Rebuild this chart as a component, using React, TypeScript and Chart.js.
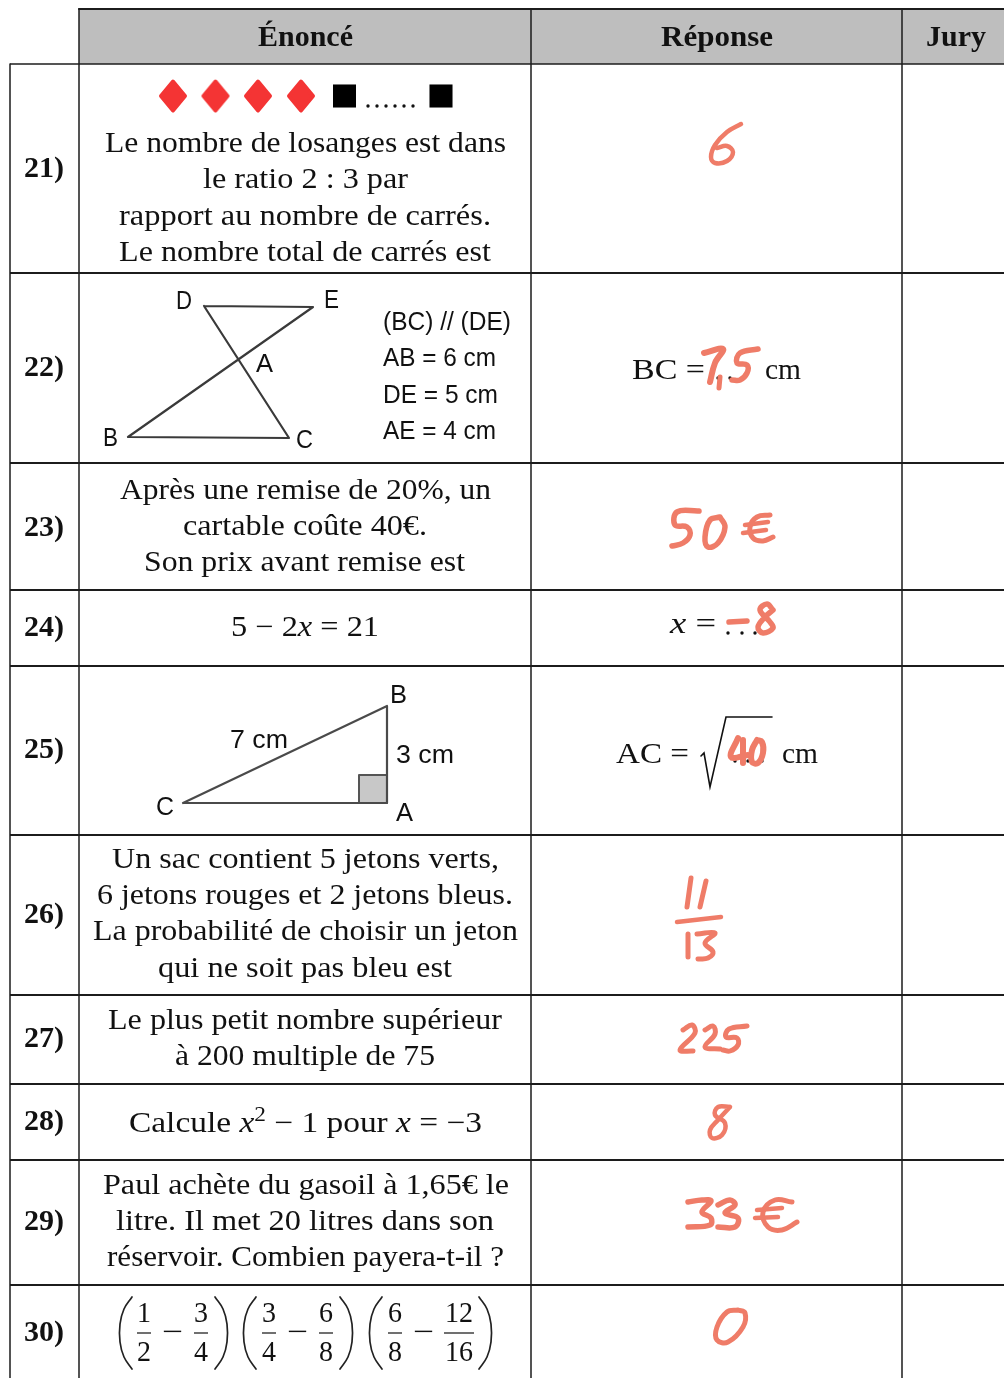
import React, { useEffect, useRef } from "react";
import { Chart, registerables } from "chart.js";

Chart.register(...registerables);

type P = [number, number];
type Line = [string, number, number, number]; // text (*italic*, ^superscript^), left, right, baseline

const SERIF = '"Liberation Serif"';
const SANS = '"Liberation Sans"';

const columnEdges = [79, 531, 902];
const rowEdges = [64, 273, 463, 590, 666, 835, 995, 1084, 1160, 1285];

const headerLabels: Line[] = [
  ["Énoncé", 258, 353, 46],
  ["Réponse", 661, 773, 46],
  ["Jury", 926, 986, 46],
];

const rowLabels: Line[] = [
  ["21)", 24, 64, 177],
  ["22)", 24, 64, 376],
  ["23)", 24, 64, 536],
  ["24)", 24, 64, 636],
  ["25)", 24, 64, 758],
  ["26)", 24, 64, 923],
  ["27)", 24, 64, 1047],
  ["28)", 24, 64, 1130],
  ["29)", 24, 64, 1230],
  ["30)", 24, 64, 1341],
];

const statementLines: Line[] = [
  ["Le nombre de losanges est dans", 105, 506, 152],
  ["le ratio 2 : 3 par", 203, 408, 188],
  ["rapport au nombre de carrés.", 119, 491, 225],
  ["Le nombre total de carrés est", 119, 491, 261],
  ["Après une remise de 20%, un", 120, 491, 499],
  ["cartable coûte 40€.", 183, 427, 535],
  ["Son prix avant remise est", 144, 465, 571],
  ["5 − 2*x* = 21", 231, 379, 636],
  ["Un sac contient 5 jetons verts,", 112, 499, 868],
  ["6 jetons rouges et 2 jetons bleus.", 97, 513, 904],
  ["La probabilité de choisir un jeton", 93, 518, 940],
  ["qui ne soit pas bleu est", 158, 452, 977],
  ["Le plus petit nombre supérieur", 108, 502, 1029],
  ["à 200 multiple de 75", 175, 435, 1065],
  ["Calcule *x*^2^ − 1 pour *x* = −3", 129, 482, 1132],
  ["Paul achète du gasoil à 1,65€ le", 103, 509, 1194],
  ["litre. Il met 20 litres dans son", 116, 494, 1230],
  ["réservoir. Combien payera-t-il ?", 107, 504, 1266],
];

const fractionDigits: Line[] = [
  ["1", 137, 151, 1322], ["2", 137, 151, 1361],
  ["3", 194, 208, 1322], ["4", 194, 208, 1361],
  ["3", 262, 276, 1322], ["4", 262, 276, 1361],
  ["6", 319, 333, 1322], ["8", 319, 333, 1361],
  ["6", 388, 402, 1322], ["8", 388, 402, 1361],
  ["12", 445, 473, 1322], ["16", 445, 473, 1361],
  ["−", 162, 183, 1341], ["−", 287, 308, 1341], ["−", 413, 434, 1341],
];

const answerLines: Line[] = [
  ["BC =", 632, 705, 379],
  ["cm", 765, 801, 379],
  ["*x* =", 670, 716, 633],
  ["AC =", 616, 689, 763],
  ["cm", 782, 818, 763],
];

const figureLabels: Line[] = [
  ["D", 176, 192, 309],
  ["E", 324, 339, 308],
  ["A", 256, 273, 372],
  ["B", 103, 118, 446],
  ["C", 296, 313, 448],
  ["(BC) // (DE)", 383, 511, 330],
  ["AB = 6 cm", 383, 496, 366],
  ["DE = 5 cm", 383, 498, 403],
  ["AE = 4 cm", 383, 496, 439],
  ["B", 390, 407, 703],
  ["3 cm", 396, 454, 763],
  ["7 cm", 230, 288, 748],
  ["C", 156, 174, 815],
  ["A", 396, 413, 821],
];

const diamonds: P[] = [[173, 96], [215.5, 96], [258, 96], [301, 96]];
const squares: P[] = [[344.5, 96], [441, 96]];
const answerDots: P[] = [
  [368, 106], [377, 106], [386, 106], [395, 106], [404, 106], [413, 106],
  [718, 378], [730, 378], [743, 378],
  [728, 633], [742, 633], [755, 633],
  [735, 761], [748, 761], [762, 761],
];

const figureOne: P[] = [[204, 306], [313, 307], [128, 437], [289, 438], [204, 306]];
const figureTwo: P[] = [[183, 803], [387, 706], [387, 803], [183, 803]];
const rightAngle: P[] = [[359, 775], [387, 775], [387, 803], [359, 803], [359, 775]];
const radical: P[] = [[701, 756], [704, 753], [710, 787], [726, 717], [772, 717]];

const fractionBars: P[][] = [
  [[137, 1333], [151, 1333]], [[194, 1333], [208, 1333]],
  [[262, 1333], [276, 1333]], [[319, 1333], [333, 1333]],
  [[388, 1333], [402, 1333]], [[444, 1333], [474, 1333]],
];

const parens: P[][] = [
  [[132, 1297], [124, 1309], [120, 1324], [120, 1342], [124, 1357], [132, 1369]],
  [[215, 1297], [223, 1309], [227, 1324], [227, 1342], [223, 1357], [215, 1369]],
  [[256, 1297], [248, 1309], [244, 1324], [244, 1342], [248, 1357], [256, 1369]],
  [[340, 1297], [348, 1309], [352, 1324], [352, 1342], [348, 1357], [340, 1369]],
  [[382, 1297], [374, 1309], [370, 1324], [370, 1342], [374, 1357], [382, 1369]],
  [[479, 1297], [487, 1309], [491, 1324], [491, 1342], [487, 1357], [479, 1369]],
];

const handwriting: [number, P[]][] = [
  [4.5, [[741, 124], [727, 132], [715, 145], [711, 157], [715, 163], [727, 161], [733, 152], [727, 146], [717, 148]]],
  [6, [[704, 353], [723, 349], [715, 363], [710, 382]]],
  [5, [[720, 377], [719, 388]]],
  [5.5, [[758, 349], [740, 353], [737, 363], [747, 365], [747, 373], [740, 380], [732, 380]]],
  [5.5, [[699, 511], [677, 512], [675, 525], [687, 527], [690, 535], [683, 543], [672, 546]]],
  [5.5, [[720, 517], [710, 520], [705, 537], [708, 547], [718, 543], [725, 527], [720, 517]]],
  [5, [[770, 515], [757, 517], [750, 527], [753, 538], [763, 541], [773, 537]]],
  [4.5, [[745, 525], [768, 522]]],
  [4.5, [[743, 533], [766, 530]]],
  [5.5, [[729, 622], [747, 621]]],
  [5.5, [[773, 610], [767, 604], [760, 610], [770, 622], [773, 628], [763, 633], [758, 627], [765, 617], [773, 610]]],
  [6, [[738, 738], [731, 757], [748, 755]]],
  [6, [[743, 740], [743, 763]]],
  [6, [[757, 740], [752, 750], [752, 762], [758, 763], [763, 753], [762, 742], [757, 740]]],
  [5, [[691, 878], [687, 907]]],
  [5, [[706, 881], [700, 907]]],
  [4.5, [[677, 922], [721, 917]]],
  [5, [[688, 934], [688, 957]]],
  [5, [[697, 934], [715, 933], [705, 943], [713, 952], [708, 958], [698, 959]]],
  [5, [[683, 1030], [692, 1025], [695, 1033], [680, 1050], [693, 1051]]],
  [5, [[705, 1030], [713, 1026], [715, 1034], [705, 1047], [720, 1049]]],
  [5, [[747, 1026], [729, 1029], [726, 1037], [737, 1038], [738, 1045], [730, 1051], [723, 1050]]],
  [4.5, [[730, 1107], [718, 1107], [715, 1115], [725, 1123], [722, 1135], [712, 1138], [710, 1130], [718, 1120], [730, 1107]]],
  [5.5, [[688, 1202], [702, 1200], [711, 1201], [702, 1212], [711, 1218], [710, 1225], [688, 1227]]],
  [5.5, [[718, 1205], [730, 1200], [735, 1205], [725, 1213], [738, 1218], [735, 1227], [718, 1227]]],
  [5, [[792, 1202], [775, 1200], [763, 1212], [768, 1227], [782, 1230], [797, 1222]]],
  [4.5, [[757, 1210], [782, 1208]]],
  [4.5, [[755, 1218], [778, 1217]]],
  [5, [[738, 1310], [727, 1312], [717, 1327], [717, 1340], [728, 1342], [743, 1327], [745, 1313], [738, 1310]]],
];

const pts = (a: P[]) => a.map(([x, y]) => ({ x, y }));

function diamondImage(): HTMLCanvasElement {
  const c = document.createElement("canvas");
  c.width = 30;
  c.height = 36;
  const g = c.getContext("2d")!;
  g.fillStyle = g.strokeStyle = "#f43434";
  g.lineWidth = 4;
  g.lineJoin = "round";
  g.beginPath();
  g.moveTo(15, 3.5);
  g.lineTo(27, 18);
  g.lineTo(15, 32.5);
  g.lineTo(3, 18);
  g.closePath();
  g.fill();
  g.stroke();
  return c;
}

function drawLine(chart: any, line: Line, size: number, family: string, bold = false) {
  const ctx = chart.ctx as CanvasRenderingContext2D;
  const [text, x0, x1, base] = line;
  const sx = chart.scales.x;
  const sy = chart.scales.y;
  const left = sx.getPixelForValue(x0);
  const right = sx.getPixelForValue(x1);
  const y = sy.getPixelForValue(base);
  const runs = text.split(/(\*[^*]+\*|\^[^^]+\^)/).filter(Boolean).map((r) => {
    const kind = r[0] === "*" ? "i" : r[0] === "^" ? "s" : "n";
    return { kind, text: kind === "n" ? r : r.slice(1, -1) };
  });
  const fontOf = (kind: string) =>
    `${kind === "i" ? "italic " : ""}${bold ? "bold " : ""}${kind === "s" ? size * 0.7 : size}px ${family}`;
  let total = 0;
  runs.forEach((r) => {
    ctx.font = fontOf(r.kind);
    total += ctx.measureText(r.text).width;
  });
  const k = (right - left) / total;
  ctx.save();
  ctx.translate(left, y);
  ctx.scale(k, 1);
  ctx.textAlign = "left";
  ctx.textBaseline = "alphabetic";
  ctx.fillStyle = "#111";
  let x = 0;
  runs.forEach((r) => {
    ctx.font = fontOf(r.kind);
    ctx.fillText(r.text, x, r.kind === "s" ? -size * 0.38 : 0);
    x += ctx.measureText(r.text).width;
  });
  ctx.restore();
}

export default function App() {
  const ref = useRef<HTMLCanvasElement>(null);

  useEffect(() => {
    document.body.style.margin = "0";
    document.body.style.background = "#fff";

    const polyline = (data: P[], color: string, width: number, tension = 0, extra: any = {}) => ({
      data: pts(data),
      showLine: true,
      borderColor: color,
      borderWidth: width,
      tension,
      pointRadius: 0,
      borderCapStyle: "round",
      borderJoinStyle: "round",
      clip: false,
      ...extra,
    });

    const structure: any[] = [
      polyline([[79, 9], [1004, 9], [1004, 64], [79, 64], [79, 9]], "#bebebe", 0, 0, {
        fill: "shape",
        backgroundColor: "#bebebe",
      }),
      polyline([[79, 9], [1004, 9]], "#1c1c1c", 2.2),
      polyline([[10, 64], [10, 1378]], "#1c1c1c", 1.5, 0, { borderCapStyle: "butt" }),
      ...columnEdges.map((x) => polyline([[x, 9], [x, 1378]], "#1c1c1c", 1.5, 0, { borderCapStyle: "butt" })),
      ...rowEdges.map((y, i) =>
        polyline([[10, y], [1004, y]], "#1c1c1c", i === 0 ? 1.6 : 2, 0, { borderCapStyle: "butt" }),
      ),
      polyline(rightAngle, "#555", 2, 0, { fill: "shape", backgroundColor: "#c8c8c8" }),
      polyline(figureOne, "#3a3a3a", 2.2),
      polyline(figureTwo, "#4a4a4a", 2.2),
      polyline(radical, "#111", 1.6, 0, { borderJoinStyle: "miter" }),
      ...fractionBars.map((b) => polyline(b, "#222", 1.3, 0, { borderCapStyle: "butt" })),
      ...parens.map((p) => polyline(p, "#222", 1.7, 0.4)),
      {
        data: pts(diamonds),
        pointStyle: diamondImage(),
        pointRadius: 14,
        showLine: false,
      },
      {
        data: pts(squares),
        pointStyle: "rect",
        pointRadius: 16.3,
        pointBackgroundColor: "#000",
        pointBorderWidth: 0,
        showLine: false,
      },
      {
        data: pts(answerDots),
        pointStyle: "circle",
        pointRadius: 1.7,
        pointBackgroundColor: "#111",
        pointBorderWidth: 0,
        showLine: false,
      },
    ];
    const ink = handwriting.map(([w, s]) => polyline(s, "#ef7c68", w, 0.4));
    const all = [...structure, ...ink];
    all.forEach((d, i) => (d.order = all.length - i));
    const lastStructure = structure.length - 1;

    const textPlugin = {
      id: "tableText",
      afterDatasetDraw(chart: any, args: any) {
        if (args.index !== lastStructure) return;
        headerLabels.forEach((l) => drawLine(chart, l, 29, SERIF, true));
        rowLabels.forEach((l) => drawLine(chart, l, 29, SERIF, true));
        statementLines.forEach((l) => drawLine(chart, l, 29, SERIF));
        fractionDigits.forEach((l) => drawLine(chart, l, 29, SERIF));
        answerLines.forEach((l) => drawLine(chart, l, 29, SERIF));
        figureLabels.forEach((l) => drawLine(chart, l, 26, SANS));
      },
    };

    const chart = new Chart(ref.current!, {
      type: "scatter",
      data: { datasets: all },
      options: {
        animation: false,
        responsive: false,
        devicePixelRatio: 1,
        events: [],
        layout: { padding: 0, autoPadding: false },
        plugins: { legend: { display: false }, tooltip: { enabled: false } },
        scales: {
          x: { type: "linear", min: 0, max: 1004, display: false },
          y: { type: "linear", min: 0, max: 1378, reverse: true, display: false },
        },
      },
      plugins: [textPlugin],
    } as any);
    return () => chart.destroy();
  }, []);

  return (
    <canvas
      ref={ref}
      width={1004}
      height={1378}
      style={{ display: "block", position: "fixed", left: 0, top: 0, width: 1004, height: 1378 }}
    />
  );
}
